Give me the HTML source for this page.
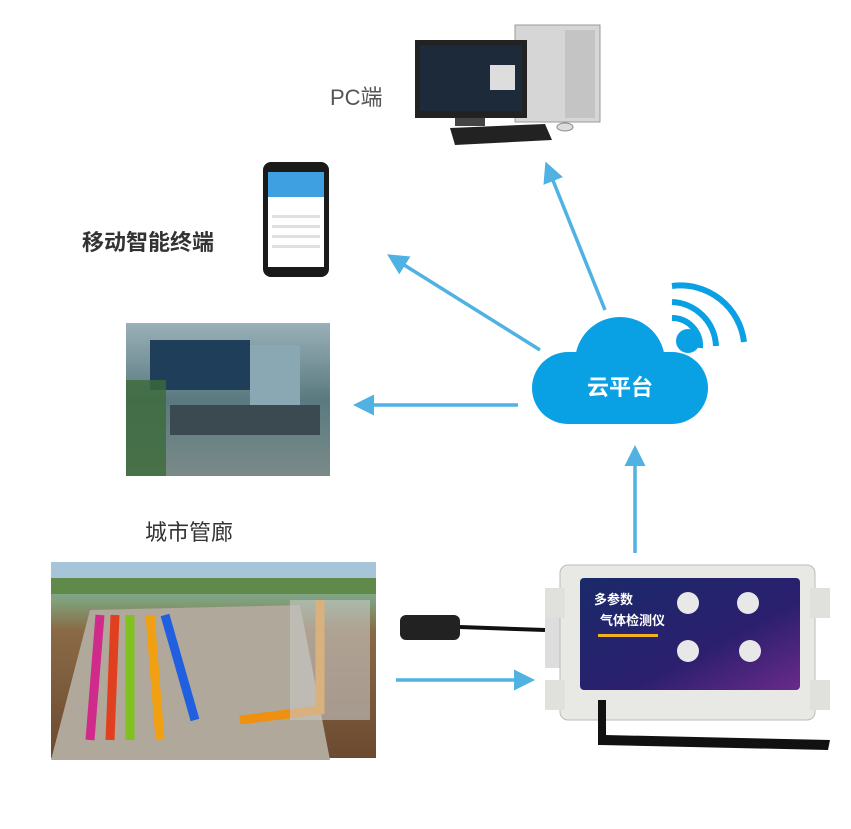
<!DOCTYPE html>
<html><head><meta charset="utf-8"><style>
body{margin:0;width:851px;height:829px;background:#fff;position:relative;overflow:hidden;font-family:"Liberation Sans","Noto Sans CJK SC",sans-serif}
.a{position:absolute}
</style></head><body>
<svg class="a" style="left:0;top:0" width="851" height="829">
<defs><marker id="ar" markerWidth="6" markerHeight="6" refX="4" refY="3" orient="auto"><path d="M0,0 L6,3 L0,6 z" fill="#4fb2e2"/></marker>
<linearGradient id="scr" x1="0" y1="0" x2="1" y2="1"><stop offset="0" stop-color="#1a2a6a"/><stop offset="0.6" stop-color="#2b1f6e"/><stop offset="1" stop-color="#6a2a8a"/></linearGradient>
<linearGradient id="gal" x1="0" y1="0" x2="0" y2="1"><stop offset="0" stop-color="#8fb6c8"/><stop offset="0.2" stop-color="#7fa07a"/><stop offset="0.35" stop-color="#8a6a45"/><stop offset="1" stop-color="#6b4a30"/></linearGradient>
<linearGradient id="room" x1="0" y1="0" x2="0" y2="1"><stop offset="0" stop-color="#9ab0b8"/><stop offset="0.5" stop-color="#5a7a80"/><stop offset="1" stop-color="#7a8a88"/></linearGradient>
</defs>
<g stroke="#4fb2e2" stroke-width="3.5" fill="none" marker-end="url(#ar)">
<line x1="605" y1="310" x2="548" y2="168"/>
<line x1="540" y1="350" x2="393" y2="258"/>
<line x1="518" y1="405" x2="360" y2="405"/>
<line x1="635" y1="553" x2="635" y2="452"/>
<line x1="396" y1="680" x2="528" y2="680"/>
</g>
<!-- cloud -->
<g fill="#0aa0e4">
<circle cx="620" cy="362" r="45"/>
<rect x="532" y="352" width="176" height="72" rx="36"/>
<circle cx="688" cy="341" r="12"/>
</g>
<g stroke="#0aa0e4" stroke-width="6" fill="none">
<path d="M672,318 A28,28 0 0 1 700,348"/>
<path d="M672,302 A46,46 0 0 1 716,346"/>
<path d="M672,286 A64,64 0 0 1 744,342"/>
</g>
<text x="620" y="395" font-size="22" fill="#fff" text-anchor="middle" font-weight="bold" font-family="Liberation Sans,Noto Sans CJK SC,sans-serif">云平台</text>
<!-- PC -->
<rect x="515" y="25" width="85" height="97" fill="#d6d6d6" stroke="#999"/>
<rect x="565" y="30" width="30" height="88" fill="#c4c4c4"/>
<rect x="415" y="40" width="112" height="78" fill="#222"/>
<rect x="420" y="45" width="102" height="66" fill="#1d2a3a"/>
<rect x="490" y="65" width="25" height="25" fill="#ddd"/>
<rect x="455" y="118" width="30" height="8" fill="#444"/>
<polygon points="450,128 545,124 552,140 455,145" fill="#222"/>
<ellipse cx="565" cy="127" rx="8" ry="4" fill="#ddd" stroke="#888"/>
<!-- phone -->
<rect x="263" y="162" width="66" height="115" rx="8" fill="#1a1a1a"/>
<rect x="268" y="172" width="56" height="95" fill="#fff"/>
<rect x="268" y="172" width="56" height="25" fill="#3ea0e0"/>
<g fill="#e0e0e0"><rect x="272" y="215" width="48" height="3"/><rect x="272" y="225" width="48" height="3"/><rect x="272" y="235" width="48" height="3"/><rect x="272" y="245" width="48" height="3"/></g>
<!-- control room -->
<rect x="126" y="323" width="204" height="153" fill="url(#room)"/>
<rect x="150" y="340" width="100" height="50" fill="#1e3e5a"/>
<rect x="250" y="345" width="50" height="60" fill="#8aa8b4"/>
<rect x="170" y="405" width="150" height="30" fill="#3a4a50"/>
<rect x="126" y="380" width="40" height="96" fill="#3c6a3a" opacity="0.8"/>
<!-- gallery -->
<rect x="51" y="562" width="325" height="196" fill="url(#gal)"/>
<rect x="51" y="562" width="325" height="30" fill="#a7c5d8"/>
<rect x="51" y="578" width="325" height="16" fill="#5f8a4a"/>
<polygon points="90,610 300,605 330,760 51,760" fill="#b0a89a"/>
<g stroke-width="9" fill="none">
<path d="M100,615 L90,740" stroke="#d02b8a"/><path d="M115,615 L110,740" stroke="#e04020"/>
<path d="M130,615 L130,740" stroke="#80c020"/><path d="M150,615 L160,740" stroke="#f0a010"/>
<path d="M165,615 L195,720" stroke="#2060e0"/><path d="M240,720 L320,710 L320,600" stroke="#f09010"/>
</g>
<rect x="290" y="600" width="80" height="120" fill="#c8c8c8" opacity="0.6"/>
<!-- device -->
<line x1="545" y1="630" x2="460" y2="627" stroke="#111" stroke-width="4"/>
<rect x="400" y="615" width="60" height="25" rx="6" fill="#222"/>
<rect x="545" y="598" width="30" height="70" fill="#ddd"/>
<rect x="560" y="565" width="255" height="155" rx="8" fill="#e8e8e4" stroke="#bbb"/>
<rect x="545" y="588" width="20" height="30" fill="#e0e0dc"/>
<rect x="810" y="588" width="20" height="30" fill="#e0e0dc"/>
<rect x="545" y="680" width="20" height="30" fill="#e0e0dc"/>
<rect x="810" y="680" width="20" height="30" fill="#e0e0dc"/>
<rect x="580" y="578" width="220" height="112" rx="4" fill="url(#scr)"/>
<g fill="#e8e8e8"><circle cx="688" cy="603" r="11"/><circle cx="748" cy="603" r="11"/><circle cx="688" cy="651" r="11"/><circle cx="750" cy="651" r="11"/></g>
<text x="594" y="604" font-size="13" fill="#fff" font-weight="bold" font-family="Liberation Sans,Noto Sans CJK SC,sans-serif">多参数</text>
<text x="600" y="625" font-size="13" fill="#fff" font-weight="bold" font-family="Liberation Sans,Noto Sans CJK SC,sans-serif">气体检测仪</text>
<rect x="598" y="634" width="60" height="3" fill="#f0b020"/>
<polygon points="600,745 605,735 830,740 828,750" fill="#111"/>
<rect x="598" y="700" width="8" height="45" fill="#111"/>
</svg>
<div class="a" style="left:330px;top:80px;font-size:22px;color:#555">PC端</div>
<div class="a" style="left:82px;top:225px;font-size:22px;color:#333;font-weight:bold">移动智能终端</div>
<div class="a" style="left:145px;top:515px;font-size:22px;color:#333">城市管廊</div>
</body></html>
